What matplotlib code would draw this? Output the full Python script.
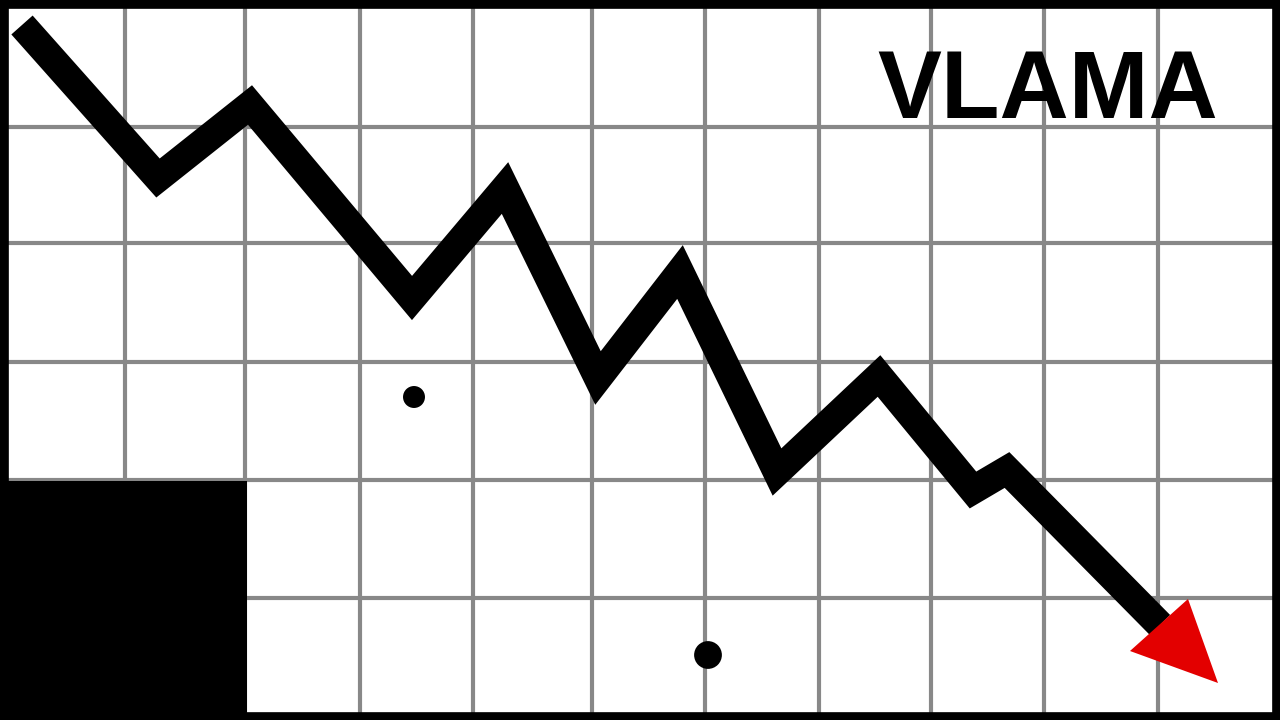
import matplotlib.pyplot as plt

# zigzag line (pixel-like units, y grows downward)
line_x = [22, 158, 250, 412, 505, 598, 680, 777, 879, 973, 1007, 1160]
line_y = [25, 178, 105, 298, 188, 378, 272, 472, 376, 490, 470, 625]

# red arrow head
head_x = [1130, 1188, 1218]
head_y = [651, 599, 683]

# loose dots
dot_x = [414, 708]
dot_y = [397, 655]
dot_size = [250, 400]

# black block bottom left
block_x = [0, 247]
block_top = 481
block_bottom = 720

# grid positions
grid_x = [125, 245, 360, 473, 592, 705, 819, 931, 1044, 1158]
grid_y = [127, 243, 362, 480, 598]

label = "VLAMA"

fig = plt.figure(figsize=(12.8, 7.2), dpi=100)
ax = fig.add_axes([0, 0, 1, 1])
ax.set_xlim(0, 1280)
ax.set_ylim(720, 0)

ax.set_xticks(grid_x)
ax.set_yticks(grid_y)
ax.tick_params(length=0, labelbottom=False, labelleft=False)
ax.grid(True, color="#888888", linewidth=3)
ax.set_axisbelow(True)

for s in ax.spines.values():
    s.set_linewidth(12)
    s.set_color("black")

ax.fill_between(block_x, block_top, block_bottom, color="black", linewidth=0, zorder=3)

ax.plot(line_x, line_y, color="black", linewidth=20.5,
        solid_joinstyle="miter", solid_capstyle="butt", zorder=4)
ax.fill(head_x, head_y, color="#e30000", linewidth=0, zorder=5)

ax.scatter(dot_x, dot_y, s=dot_size, color="black", linewidths=0, zorder=4)

ax.text(1048, 118, label, fontsize=69, fontweight="bold", family="Liberation Sans",
        ha="center", va="baseline", color="black", zorder=6)

plt.savefig("out.png", dpi=100)
